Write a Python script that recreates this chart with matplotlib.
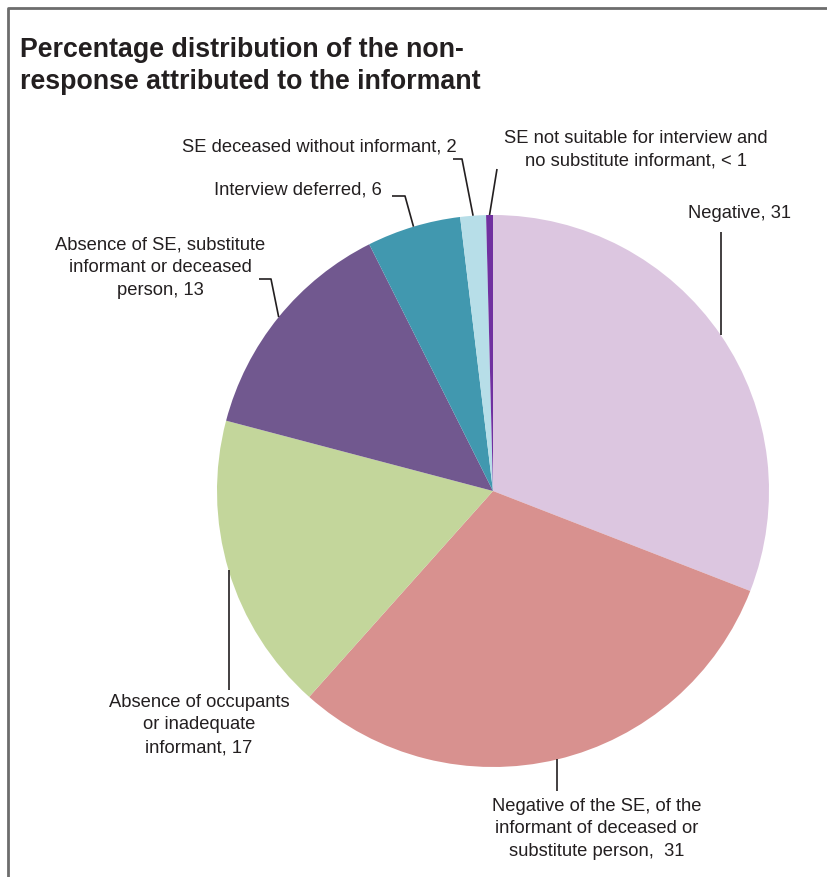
import numpy as np
import matplotlib.pyplot as plt

plt.rcParams["font.family"] = ["Liberation Sans", "DejaVu Sans"]

W, H = 827, 878

labels = [
    "Negative, 31",
    "Negative of the SE, of the\ninformant of deceased or\nsubstitute person,  31",
    "Absence of occupants\nor inadequate\ninformant, 17",
    "Absence of SE, substitute\ninformant or deceased\nperson, 13",
    "Interview deferred, 6",
    "SE deceased without informant, 2",
    "SE not suitable for interview and\nno substitute informant, < 1",
]
values = [30.9, 30.7, 17.5, 13.5, 5.5, 1.5, 0.4]
colors = ["#DCC6E0", "#D8918F", "#C3D69B", "#71588F", "#4198AF", "#B7DEE8", "#7030A0"]

# label layout in pixels (y measured from top): text centre/edge, alignment,
# and the bend points of each leader line
text_pos = [(740, 213, "center"), (597, 829, "center"), (199, 725, "center"),
            (160, 268, "center"), (382, 190, "right"), (457, 147, "right"),
            (636, 150, "center")]
leader_pts = [[(None, 233)], [(None, 792)], [(None, 691)],
              [(271, 280), (259, 280)], [(405, 197), (392, 197)],
              [(462, 160), (453, 160)], [(497, 170)]]

cx, cy, r = 493, 492, 276

fig = plt.figure(figsize=(W / 100, H / 100), dpi=100)
ax = fig.add_axes([0, 0, 1, 1])
wedges, _ = ax.pie(values, colors=colors, startangle=90, counterclock=False,
                   center=(cx, H - cy), radius=r,
                   wedgeprops={"linewidth": 0})
ax.set_xlim(0, W)
ax.set_ylim(0, H)
ax.set_aspect("equal")
ax.axis("off")

for w, lab, (tx, ty, ha), pts in zip(wedges, labels, text_pos, leader_pts):
    a = np.deg2rad((w.theta1 + w.theta2) / 2)
    x0 = cx + r * np.cos(a)
    y0 = (H - cy) + r * np.sin(a)
    xs, ys = [x0], [y0]
    for px, py in pts:
        xs.append(x0 if px is None else px)
        ys.append(H - py)
    ax.plot(xs, ys, color="#231F20", lw=1.2, solid_capstyle="butt")
    ax.text(tx, H - ty, lab, ha=ha, va="center", multialignment="center",
            fontsize=13.2, color="#231F20", linespacing=1.45)

ax.text(20, H - 66, "Percentage distribution of the non-\nresponse attributed to the informant",
        ha="left", va="center", fontsize=19.3, fontweight="bold", color="#231F20",
        linespacing=1.33)

# frame
ax.plot([8, 8, W + 5], [-5, H - 9, H - 9], color="#6D6D6D", lw=2)

fig.savefig("out.png", dpi=100)
